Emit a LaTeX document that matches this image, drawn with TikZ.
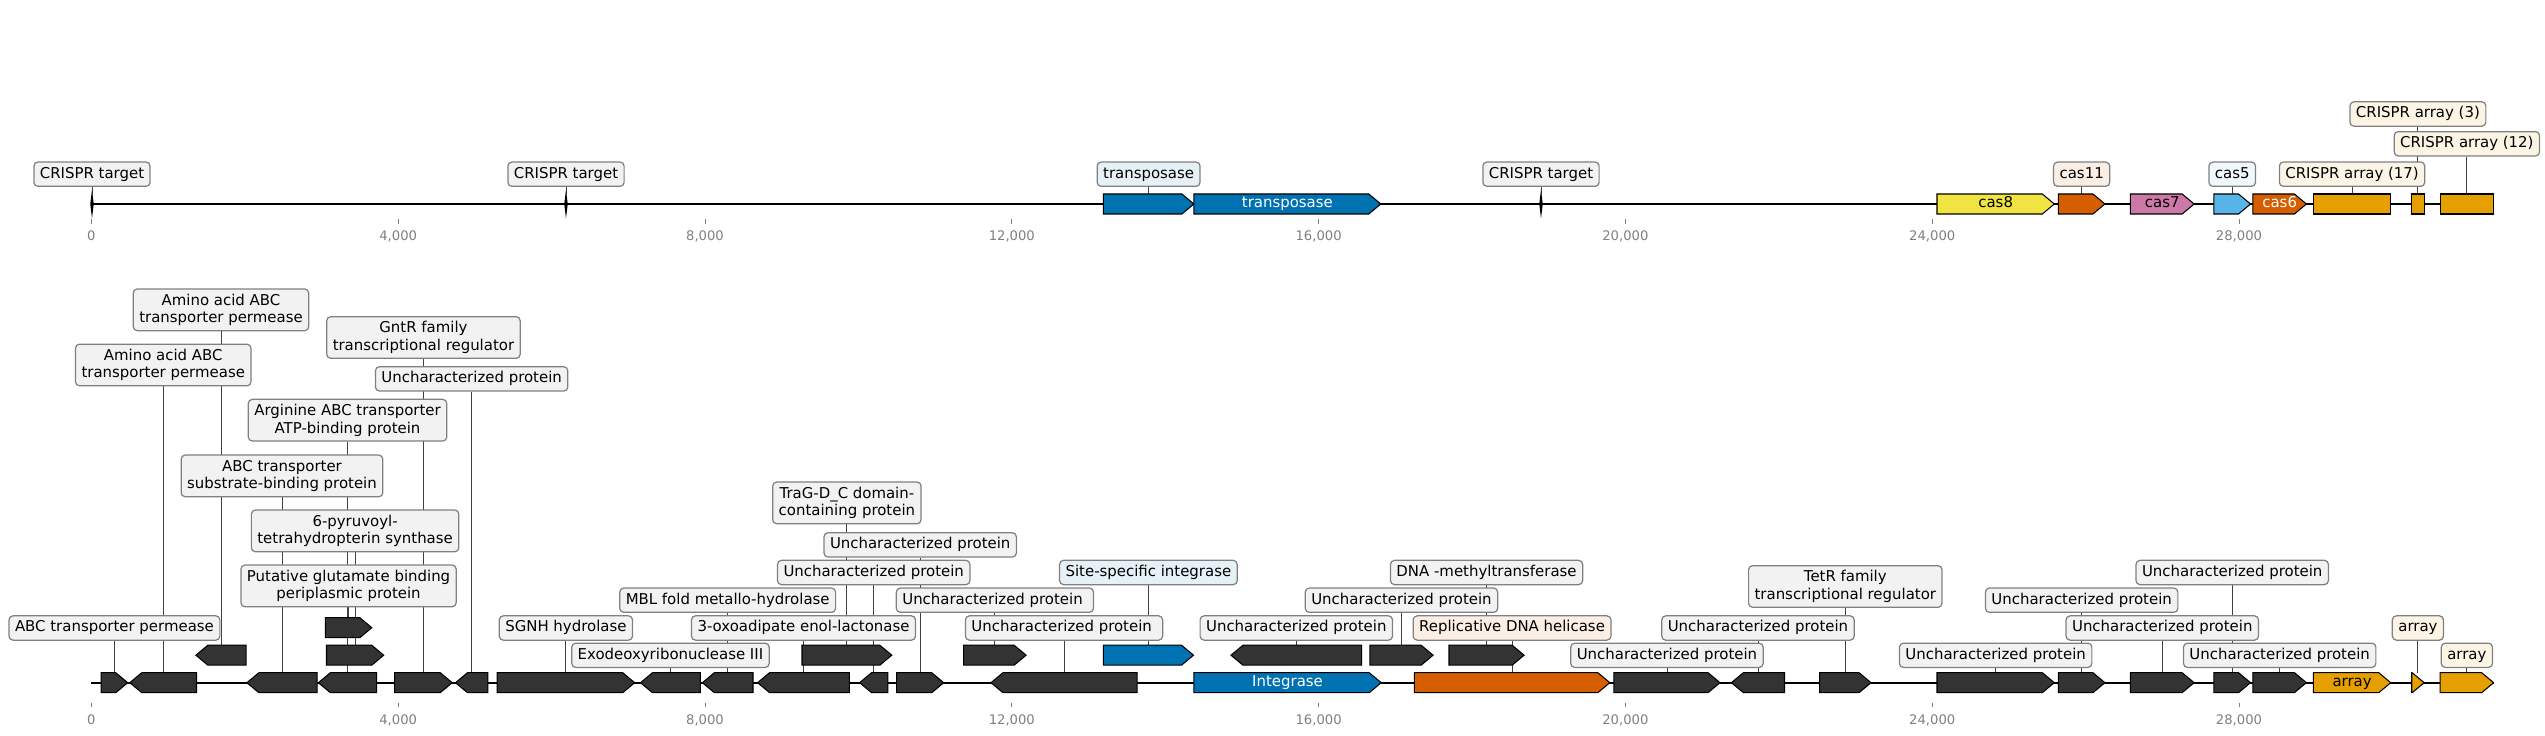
\documentclass[tikz,border=0pt]{standalone}
\usepackage{fontspec}
\setmainfont{DejaVu Sans}
\usetikzlibrary{backgrounds}

\definecolor{cblue}{HTML}{0072B2}
\definecolor{corange}{HTML}{E69F00}
\definecolor{cverm}{HTML}{D55E00}
\definecolor{csky}{HTML}{56B4E9}
\definecolor{cyellow}{HTML}{F0E442}
\definecolor{cpink}{HTML}{CC79A7}
\definecolor{cdark}{HTML}{333333}

% #1 name, #2 start, #3 end, #4 centre y, #5 strand (1, -1 or 0), #6 fill
\newcommand{\gene}[6]{%
  \pgfmathsetmacro{\hd}{min(12,#3-#2)}%
  \ifnum#5=1
    \draw[gene, fill=#6] (#2,#4-10) -- ({#3-\hd},#4-10) -- (#3,#4) -- ({#3-\hd},#4+10) -- (#2,#4+10) -- cycle;
  \else\ifnum#5=-1
    \draw[gene, fill=#6] (#3,#4-10) -- ({#2+\hd},#4-10) -- (#2,#4) -- ({#2+\hd},#4+10) -- (#3,#4+10) -- cycle;
  \else
    \draw[gene, fill=#6] (#2,#4-10) rectangle (#3,#4+10);
  \fi\fi
  \coordinate (#1) at ({(#2+#3)/2},#4-10);
}
% thin mark for a CRISPR target
\newcommand{\crtarget}[2]{%
  \draw[gene, fill=black] (#2-1.2,204) -- (#2,194) -- (#2+1.2,204) -- (#2,214) -- cycle;
  \coordinate (#1) at (#2,194);
}

\begin{document}
\begin{tikzpicture}[
    x=0.02cm, y=-0.02cm,
    gene/.style={draw=black, line width=0.6pt, line join=miter},
    lbl/.style={draw=black!50, line width=0.7pt, fill=black!5, rounded corners=0.08cm,
        font=\fontsize{8.5}{10}\selectfont, inner xsep=0.12cm, inner ysep=0pt,
        text height=0.228cm, text depth=0.072cm, minimum height=0.486cm},
    lbltwo/.style={lbl, align=center, text height=, text depth=, minimum height=0.834cm},
    conn/.style={draw=black!75, line width=0.5pt},
    intext/.style={font=\fontsize{8.5}{10}\selectfont, inner sep=0pt, text height=0.228cm, text depth=0.072cm},
    tick/.style={draw=black!50, line width=0.5pt},
    ticklbl/.style={text=black!50, font=\fontsize{7.5}{9}\selectfont, inner sep=0pt, anchor=base},
    axisline/.style={draw=black, line width=1.3pt}
]
\useasboundingbox (0,0) rectangle (2545,736);

% ---- top track: CRISPR-Cas locus ----
\crtarget{tgtA}{92}
\crtarget{tgtB}{566}
\crtarget{tgtC}{1541}
\gene{tnpA}{1103.3}{1193.9}{204}{1}{cblue}
\gene{tnpB}{1193.9}{1380.8}{204}{1}{cblue}
\gene{cas8}{1937}{2054.3}{204}{1}{cyellow}
\gene{cas11}{2058.4}{2104.9}{204}{1}{cverm}
\gene{cas7}{2130.4}{2194.1}{204}{1}{cpink}
\gene{cas5}{2213.9}{2250.5}{204}{1}{csky}
\gene{cas6}{2252.9}{2306.4}{204}{1}{cverm}
\gene{arrA}{2313.4}{2390.7}{204}{0}{corange}
\gene{arrB}{2411.7}{2424.1}{204}{0}{corange}
\gene{arrC}{2440.1}{2493.6}{204}{0}{corange}

\node[intext, text=white] (tTnp) at (tnpB |- 0,204) {transposase};
\node[intext] (tCas8) at (cas8 |- 0,204) {cas8};
\node[intext] (tCas7) at (cas7 |- 0,204) {cas7};
\node[intext, text=white] (tCas6) at (cas6 |- 0,204) {cas6};

\node[lbl] (lTgtA) at (tgtA |- 0,174.2) {CRISPR target};
\node[lbl] (lTgtB) at (tgtB |- 0,174.2) {CRISPR target};
\node[lbl] (lTgtC) at (tgtC |- 0,174.2) {CRISPR target};
\node[lbl, fill=cblue!10] (lTnp) at (tnpA |- 0,174.2) {transposase};
\node[lbl, fill=cverm!10] (lCas11) at (cas11 |- 0,174.2) {cas11};
\node[lbl, fill=csky!10] (lCas5) at (cas5 |- 0,174.2) {cas5};
\node[lbl, fill=corange!10] (lArrA) at (arrA |- 0,174.2) {CRISPR array (17)};
\node[lbl, fill=corange!10] (lArrC) at (arrC |- 0,143.8) {CRISPR array (12)};
\node[lbl, fill=corange!10] (lArrB) at (arrB |- 0,114) {CRISPR array (3)};

% ---- bottom track: whole region ----
\gene{g1}{101.2}{127.7}{682.7}{1}{cdark}
\gene{g2}{129.8}{196.7}{682.7}{-1}{cdark}
\gene{g3}{246.9}{317.1}{682.7}{-1}{cdark}
\gene{g4}{318.4}{376.7}{682.7}{-1}{cdark}
\gene{g5}{394.7}{452.2}{682.7}{1}{cdark}
\gene{g6}{455.5}{487.8}{682.7}{-1}{cdark}
\gene{g7}{497.1}{634.7}{682.7}{1}{cdark}
\gene{g8}{195.9}{246.1}{655.2}{-1}{cdark}
\gene{g9}{326.5}{383.7}{655.2}{1}{cdark}
\gene{g10}{325.3}{371.8}{627.7}{1}{cdark}
\gene{g11}{640.5}{700.4}{682.7}{-1}{cdark}
\gene{g12}{702.4}{753}{682.7}{-1}{cdark}
\gene{g13}{757.6}{849.4}{682.7}{-1}{cdark}
\gene{g14}{859.6}{887.8}{682.7}{-1}{cdark}
\gene{g15}{802}{891.8}{655.2}{1}{cdark}
\gene{g16}{896.7}{943.7}{682.7}{1}{cdark}
\gene{g17}{963.7}{1026.1}{655.2}{1}{cdark}
\gene{g18}{991}{1137.1}{682.7}{-1}{cdark}
\gene{g19}{1103.3}{1193.5}{655.2}{1}{cblue}
\gene{g20}{1193.9}{1381.2}{682.7}{1}{cblue}
\gene{g21}{1231}{1361.6}{655.2}{-1}{cdark}
\gene{g22}{1369.8}{1433.1}{655.2}{1}{cdark}
\gene{g23}{1449}{1524.1}{655.2}{1}{cdark}
\gene{g24}{1414.3}{1609.8}{682.7}{1}{cverm}
\gene{g25}{1613.9}{1720}{682.7}{1}{cdark}
\gene{g26}{1731.4}{1784.5}{682.7}{-1}{cdark}
\gene{g27}{1819.6}{1871}{682.7}{1}{cdark}
\gene{g28}{1937}{2054.3}{682.7}{1}{cdark}
\gene{g29}{2058.4}{2104.9}{682.7}{1}{cdark}
\gene{g30}{2130.4}{2194.1}{682.7}{1}{cdark}
\gene{g31}{2213.9}{2250.5}{682.7}{1}{cdark}
\gene{g32}{2252.9}{2306.4}{682.7}{1}{cdark}
\gene{g33}{2313.4}{2390.7}{682.7}{1}{corange}
\gene{g34}{2411.7}{2424.1}{682.7}{1}{corange}
\gene{g35}{2440.1}{2493.6}{682.7}{1}{corange}

\node[intext, text=white] (tInt) at (g20 |- 0,682.7) {Integrase};
\node[intext] (tArr) at (g33 |- 0,682.7) {array};

\node[lbl] (lAbcPerm) at (g1 |- 0,628) {ABC transporter permease\ };
\node[lbltwo] (lAminoA) at (g2 |- 0,365) {Amino acid ABC\\transporter permease};
\node[lbltwo] (lAminoB) at (g8 |- 0,309.8) {Amino acid ABC\\transporter permease};
\node[lbltwo] (lAbcSub) at (g3 |- 0,475.9) {ABC transporter\\substrate-binding protein};
\node[lbltwo] (lArg) at (g4 |- 0,420.2) {Arginine ABC transporter\\ATP-binding protein};
\node[lbltwo] (lPyr) at (g9 |- 0,530.9) {6-pyruvoyl-\\tetrahydropterin synthase};
\node[lbltwo] (lGlu) at (g10 |- 0,585.9) {Putative glutamate binding\\periplasmic protein};
\node[lbltwo] (lGntR) at (g5 |- 0,337.5) {GntR family\\transcriptional regulator};
\node[lbl] (lUnc1) at (g6 |- 0,378.9) {Uncharacterized protein\ };
\node[lbl] (lSgnh) at (g7 |- 0,628) {SGNH hydrolase\ };
\node[lbl] (lExo) at (g11 |- 0,655.3) {Exodeoxyribonuclease III\ };
\node[lbl] (lMbl) at (g12 |- 0,600.2) {MBL fold metallo-hydrolase\ };
\node[lbl] (lOxo) at (g13 |- 0,628) {3-oxoadipate enol-lactonase\ };
\node[lbl] (lUnc2) at (g14 |- 0,572.5) {Uncharacterized protein\ };
\node[lbltwo] (lTraG) at (g15 |- 0,502.9) {TraG-D\_C domain-\\containing protein};
\node[lbl] (lUnc3) at (g16 |- 0,544.9) {Uncharacterized protein\ };
\node[lbl] (lUnc4) at (g17 |- 0,600.2) {Uncharacterized protein\ \ };
\node[lbl] (lUnc5) at (g18 |- 0,628) {Uncharacterized protein\ \ };
\node[lbl, fill=cblue!10] (lSite) at (g19 |- 0,572.5) {Site-specific integrase\ };
\node[lbl] (lUnc6) at (g21 |- 0,628) {Uncharacterized protein\ };
\node[lbl] (lUnc7) at (g22 |- 0,600.2) {Uncharacterized protein\ };
\node[lbl] (lDnaMt) at (g23 |- 0,572.5) {DNA -methyltransferase\ };
\node[lbl, fill=cverm!10] (lHel) at (g24 |- 0,628) {Replicative DNA helicase\ };
\node[lbl] (lUnc8) at (g25 |- 0,655.3) {Uncharacterized protein\ };
\node[lbl] (lUnc9) at (g26 |- 0,628) {Uncharacterized protein\ };
\node[lbltwo] (lTetR) at (g27 |- 0,586.5) {TetR family\\transcriptional regulator};
\node[lbl] (lUnc10) at (g28 |- 0,655.3) {Uncharacterized protein\ };
\node[lbl] (lUnc11) at (g29 |- 0,600.2) {Uncharacterized protein\ };
\node[lbl] (lUnc12) at (g30 |- 0,628) {Uncharacterized protein\ };
\node[lbl] (lUnc13) at (g31 |- 0,572.5) {Uncharacterized protein\ };
\node[lbl] (lUnc14) at (g32 |- 0,655.3) {Uncharacterized protein\ };
\node[lbl, fill=corange!10] (lArr1) at (g34 |- 0,628) {array};
\node[lbl, fill=corange!10] (lArr2) at (g35 |- 0,655.3) {array};

% ---- axes ----
\foreach \k/\t in {0/0,1/{4,000},2/{8,000},3/{12,000},4/{16,000},5/{20,000},6/{24,000},7/{28,000}} {
    \draw[tick] ({91.4+306.8*\k},219.3) -- ++(0,4.7);
    \node[ticklbl] (ttop\k) at ({91.4+306.8*\k},240.8) {\t};
    \draw[tick] ({91.4+306.8*\k},702.7) -- ++(0,4.7);
    \node[ticklbl] (tbot\k) at ({91.4+306.8*\k},724.1) {\t};
}

% backbones and label connectors behind everything
\begin{pgfonlayer}{background}
    \draw[axisline] (91.4,204) -- (2493.6,204);
    \draw[axisline] (91.4,682.7) -- (2493.6,682.7);
    \foreach \l/\g in {lTgtA/tgtA, lTgtB/tgtB, lTgtC/tgtC, lTnp/tnpA, lCas11/cas11,
        lCas5/cas5, lArrA/arrA, lArrB/arrB, lArrC/arrC,
        lAbcPerm/g1, lAminoA/g2, lAminoB/g8, lAbcSub/g3, lArg/g4, lPyr/g9, lGlu/g10,
        lGntR/g5, lUnc1/g6, lSgnh/g7, lExo/g11, lMbl/g12, lOxo/g13, lUnc2/g14,
        lTraG/g15, lUnc3/g16, lUnc4/g17, lUnc5/g18, lSite/g19, lUnc6/g21, lUnc7/g22,
        lDnaMt/g23, lHel/g24, lUnc8/g25, lUnc9/g26, lTetR/g27, lUnc10/g28,
        lUnc11/g29, lUnc12/g30, lUnc13/g31, lUnc14/g32, lArr1/g34, lArr2/g35}
        \draw[conn] (\l.south) -- (\g);
\end{pgfonlayer}

\end{tikzpicture}
\end{document}
